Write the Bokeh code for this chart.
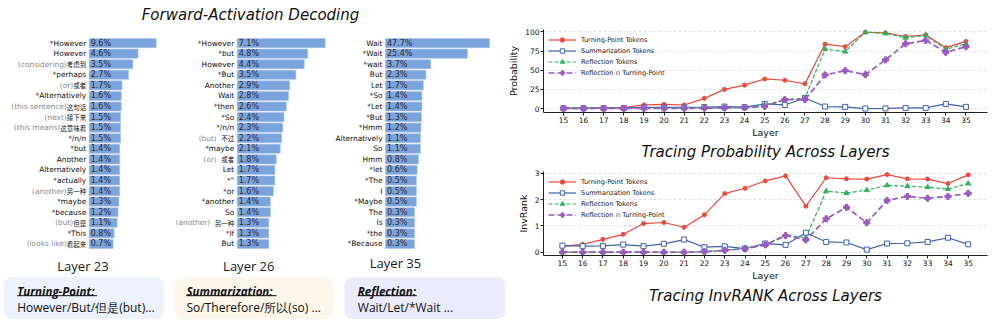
import numpy as np
from bokeh.plotting import figure
from bokeh.models import Range1d, ColumnDataSource, FixedTicker, Label
from bokeh.layouts import row, column
from bokeh.core.properties import value
from bokeh.embed import file_html
from bokeh.resources import INLINE

# ---------------- data: forward-activation decoding ----------------
l23_tokens = ["*However", "However", "(considering)", "*perhaps", "(or)", "*Alternatively",
              "(this sentence)", "(next)", "(this means)", "*/n/n", "*but", "Another",
              "Alternatively", "*actually", "(another)", "*maybe", "*because", "(but)",
              "*This", "(looks like)"]
l23_zh = ["", "", "考虑到", "", "或者", "", "这句话", "接下来", "这意味着", "", "", "",
          "", "", "另一种", "", "", "但是", "", "看起来"]
l23_vals = [9.6, 4.6, 3.5, 2.7, 1.7, 1.6, 1.6, 1.5, 1.5, 1.5, 1.4, 1.4, 1.4, 1.4, 1.4,
            1.3, 1.2, 1.1, 0.8, 0.7]

l26_tokens = ["*However", "*but", "However", "*But", "Another", "Wait", "*then", "*So",
              "*/n/n", "(but)", "*maybe", "(or)", "Let", '*"', "*or", "*another", "So",
              "(another)", "*If", "But"]
l26_zh = ["", "", "", "", "", "", "", "", "", "不过", "", "或者", "", "", "", "", "",
          "另一种", "", ""]
l26_vals = [7.1, 4.8, 4.4, 3.5, 2.9, 2.8, 2.6, 2.4, 2.3, 2.2, 2.1, 1.8, 1.7, 1.7, 1.6,
            1.4, 1.4, 1.3, 1.3, 1.3]

l35_tokens = ["Wait", "*Wait", "*wait", "But", "Let", "*So", "*Let", "*But", "*Hmm",
              "Alternatively", "So", "Hmm", "*let", "*The", "I", "*Maybe", "The", "Is",
              "*the", "*Because"]
l35_zh = [""] * 20
l35_vals = [47.7, 25.4, 3.7, 2.3, 1.7, 1.4, 1.4, 1.3, 1.2, 1.1, 1.1, 0.8, 0.6, 0.5, 0.5,
            0.5, 0.3, 0.3, 0.3, 0.3]

layer_titles = ["Layer 23", "Layer 26", "Layer 35"]
box_heads = ["Turning-Point:", "Summarization:", "Reflection:"]
box_lines = ["However/But/但是(but)...", "So/Therefore/所以(so) ...", "Wait/Let/*Wait ..."]

# ---------------- data: tracing across layers ----------------
layers = list(range(15, 36))
prob_turning = [0.5, 0.5, 1.0, 1.3, 4.7, 5.5, 4.6, 13.3, 25.0, 30.5, 38.6, 36.9, 32.2,
                84.1, 80.7, 99.5, 98.8, 94.0, 96.2, 79.4, 87.6]
prob_summ = [0.5, 0.5, 0.5, 0.8, 1.5, 1.5, 1.5, 2.0, 2.6, 1.8, 6.0, 4.7, 13.7, 2.6, 2.2,
             0.0, 0.2, 0.8, 0.8, 6.0, 2.2]
prob_refl = [0.2, 0.2, 0.3, 0.3, 0.5, 0.6, 0.6, 0.8, 1.2, 1.3, 4.3, 11.6, 13.7, 77.7, 74.2,
             99.6, 97.9, 92.3, 95.3, 77.3, 84.5]
prob_refl_turn = [0.0, 0.0, 0.1, 0.1, 0.2, 0.3, 0.3, 0.5, 0.8, 1.3, 2.7, 11.6, 11.6, 43.8,
                  49.4, 44.2, 63.5, 84.5, 88.9, 73.4, 80.7]

inv_turning = [0.22, 0.30, 0.49, 0.68, 1.09, 1.13, 0.95, 1.42, 2.23, 2.43, 2.71, 2.90, 1.75,
               2.83, 2.79, 2.78, 2.95, 2.79, 2.78, 2.61, 2.94]
inv_summ = [0.25, 0.23, 0.24, 0.29, 0.23, 0.32, 0.48, 0.19, 0.22, 0.14, 0.33, 0.28, 0.74,
            0.39, 0.37, 0.10, 0.33, 0.34, 0.39, 0.55, 0.30]
inv_refl = [0.0, 0.0, 0.0, 0.0, 0.0, 0.0, 0.0, 0.02, 0.07, 0.15, 0.28, 0.66, 0.55, 2.32,
            2.25, 2.36, 2.54, 2.51, 2.47, 2.40, 2.61]
inv_refl_turn = [0.0, 0.0, 0.0, 0.0, 0.0, 0.0, 0.0, 0.02, 0.07, 0.13, 0.28, 0.63, 0.47,
                 1.27, 1.71, 1.12, 1.97, 2.12, 2.05, 2.12, 2.24]

series_names = ["Turning-Point Tokens", "Summarization Tokens", "Reflection Tokens",
                "Reflection ∩ Turning-Point"]

# ---------------- styles ----------------
BAR = "#7ba3dc"
C_RED, C_BLUE, C_GREEN, C_PURPLE = "#ee4a3c", "#3f63b3", "#2fb45a", "#9b59c2"
SANS = "DejaVu Sans"
CJK = "Noto Sans CJK SC"
UI = "Open Sans"

# ================= left figure =================
WL, H = 505, 319
left = figure(width=WL, height=H, x_range=Range1d(0, WL), y_range=Range1d(H, 0),
              x_axis_type=None, y_axis_type=None, output_backend="svg",
              toolbar_location=None, min_border=0)
left.outline_line_color = None
left.grid.visible = False

row0, row_step = 42.6, 10.57
left.extra_y_ranges = {"rows": Range1d((H - row0) / row_step, -row0 / row_step)}

# per panel: bar-start pixel, px per sqrt-unit, baseline (sqrt units), gap before CJK
panel_geo = [(88.7, 19.06, -0.417, 0.0), (236.7, 37.0, 0.286, 4.5), (385.0, 11.8, -1.907, 0.0)]
panels = [(l23_tokens, l23_zh, l23_vals), (l26_tokens, l26_zh, l26_vals),
          (l35_tokens, l35_zh, l35_vals)]
cjk_size = 6.5
xr = {}
for i, ((toks, zh, vals), (p0, k, base, gap)) in enumerate(zip(panels, panel_geo)):
    xr[f"p{i}"] = Range1d(base - p0 / k, base + (WL - p0) / k)
left.extra_x_ranges = xr

for i, ((toks, zh, vals), (p0, k, base, gap)) in enumerate(zip(panels, panel_geo)):
    name = f"p{i}"
    src = ColumnDataSource(dict(
        rank=list(range(len(vals))),
        root=list(np.sqrt(vals)),
        pct=[f"{v:.1f}%" for v in vals],
        tok=toks,
        zh=zh,
        tok_col=["#8a8a8a" if t.startswith("(") else "#111111" for t in toks],
        tok_off=[-3 - (len(z) * cjk_size + gap if z else 0) for z in zh],
    ))
    left.hbar(y="rank", left=base, right="root", height=0.86, fill_color=BAR,
              line_color="#a8c2ea", line_width=0.6, source=src,
              x_range_name=name, y_range_name="rows")
    left.text(x=base, y="rank", text="pct", x_offset=1.5, text_align="left",
              text_baseline="middle", text_font=value(SANS), text_font_size="8px",
              text_color="#2b2b2b", source=src, x_range_name=name, y_range_name="rows")
    left.text(x=base, y="rank", text="tok", x_offset="tok_off", text_align="right",
              text_baseline="middle", text_font=value(SANS), text_font_size="7.4px",
              text_color="tok_col", source=src, x_range_name=name, y_range_name="rows")
    left.text(x=base, y="rank", text="zh", x_offset=-3, text_align="right",
              text_baseline="middle", text_font=value(CJK), text_font_size=f"{cjk_size}px",
              text_color="#111111", source=src, x_range_name=name, y_range_name="rows")

# title
left.add_layout(Label(x=250, y=14, text="Forward-Activation Decoding", text_align="center",
                      text_baseline="middle", text_font=SANS, text_font_style="italic",
                      text_font_size="15px", text_color="#111111"))
# layer labels
for tx, (lx, ly) in zip(layer_titles, [(82.5, 265), (248.3, 265), (395, 262.3)]):
    left.add_layout(Label(x=lx, y=ly, text=tx, text_align="center", text_baseline="middle",
                          text_font=UI, text_font_size="13px", text_color="#1a1a1a"))
# boxes
box_l = [3.3, 174, 344]
box_r = [163.3, 333.3, 505]
box_fill = ["#edf3fe", "#fef5eb", "#ecebfb"]
left.quad(left=box_l, right=box_r, top=[276.7] * 3, bottom=[318.5] * 3, fill_color=box_fill,
          line_color=None, border_radius=8)
text_x = [16.7, 186, 357.3]
ul_w = [80, 90, 59]
for tx, head, line, w in zip(text_x, box_heads, box_lines, ul_w):
    left.add_layout(Label(x=tx, y=290.7, text=head, text_align="left", text_baseline="middle",
                          text_font=UI, text_font_style="bold italic", text_font_size="11.5px",
                          text_color="#111111"))
    left.add_layout(Label(x=tx, y=306.7, text=line, text_align="left", text_baseline="middle",
                          text_font=UI, text_font_size="12px", text_color="#111111"))
    left.segment(x0=[tx], y0=[295.2], x1=[tx + w], y1=[295.2], line_color="#111111",
                 line_width=1)


# ================= right figures =================
def tracing_fig(width, height, x_rng, y_rng, yticks, ylabel, title, borders, data,
                title_offset, title_standoff, legend_geo):
    bl, br, bt, bb = borders
    p = figure(width=width, height=height, x_range=Range1d(*x_rng), y_range=Range1d(*y_rng),
               output_backend="svg", toolbar_location=None, title=title,
               title_location="below", min_border_left=bl, min_border_right=br,
               min_border_top=bt, min_border_bottom=bb)
    p.outline_line_color = None
    p.xgrid.visible = False
    p.ygrid.grid_line_color = "#d9d9d9"
    p.ygrid.grid_line_dash = "3 2"
    p.ygrid.grid_line_width = 0.8
    p.xaxis.ticker = FixedTicker(ticks=layers)
    p.yaxis.ticker = FixedTicker(ticks=yticks)
    p.xaxis.axis_label = "Layer"
    p.yaxis.axis_label = ylabel
    for ax in (p.xaxis, p.yaxis):
        ax.major_label_text_font = SANS
        ax.major_label_text_font_size = "7.5px"
        ax.major_label_text_color = "#111111"
        ax.axis_label_text_font = SANS
        ax.axis_label_text_font_size = "9.5px"
        ax.axis_label_text_font_style = "normal"
        ax.axis_label_text_color = "#111111"
        ax.axis_line_color = "#222222"
        ax.axis_line_width = 1
        ax.major_tick_line_color = "#222222"
        ax.major_tick_out = 3
        ax.major_tick_in = 0
        ax.minor_tick_out = 0
        ax.minor_tick_in = 0
        ax.major_label_standoff = 1
        ax.axis_label_standoff = 1
    p.yaxis.axis_label_standoff = 3
    p.title.text_font = SANS
    p.title.text_font_style = "italic"
    p.title.text_font_size = "15px"
    p.title.text_color = "#111111"
    p.title.align = "center"
    p.title.offset = title_offset
    p.title.standoff = title_standoff

    t, s, r, rt = data
    p.line(layers, t, line_color=C_RED, line_width=1.2, legend_label=series_names[0])
    p.scatter(layers, t, marker="circle", size=4, fill_color=C_RED, line_color=C_RED,
              legend_label=series_names[0])
    p.line(layers, s, line_color=C_BLUE, line_width=1.2, legend_label=series_names[1])
    p.scatter(layers, s, marker="square", size=5, fill_color="white", line_color=C_BLUE,
              line_width=1, legend_label=series_names[1])
    p.line(layers, r, line_color=C_GREEN, line_width=1.2, line_dash="4 2",
           legend_label=series_names[2])
    p.scatter(layers, r, marker="triangle", size=5, fill_color=C_GREEN, line_color=C_GREEN,
              legend_label=series_names[2])
    p.line(layers, rt, line_color=C_PURPLE, line_width=1.7, line_dash="6 3",
           legend_label=series_names[3])
    p.scatter(layers, rt, marker="plus", size=6, fill_color=C_PURPLE, line_color=C_PURPLE,
              legend_label=series_names[3])

    lg = p.legend[0]
    lg.location = "top_left"
    lg.margin, lg.padding = legend_geo
    lg.spacing = 0
    lg.glyph_height = 11
    lg.label_height = 11
    lg.glyph_width = 28
    lg.label_standoff = 5
    lg.label_text_font = SANS
    lg.label_text_font_size = "6.5px"
    lg.label_text_color = "#222222"
    lg.border_line_alpha = 0
    lg.background_fill_alpha = 0
    return p


WR = 989 - WL
top = tracing_fig(WR, 160, (14.01, 36.07), (-5.15, 103.1), [0, 25, 50, 75, 100],
                  "Probability", "Tracing Probability Across Layers", (36, 2, 29, 47),
                  (prob_turning, prob_summ, prob_refl, prob_refl_turn), 16, 0, (3, 2))
bottom = tracing_fig(WR, 159, (14.07, 35.95), (-0.125, 3.068), [0, 1, 2, 3],
                     "InvRank", "Tracing InvRANK Across Layers", (27, 0, 11, 64),
                     (inv_turning, inv_summ, inv_refl, inv_refl_turn), 20, 3, (3, 2))

layout = row(left, column(top, bottom))
open("out.html", "w").write(file_html(layout, INLINE))
